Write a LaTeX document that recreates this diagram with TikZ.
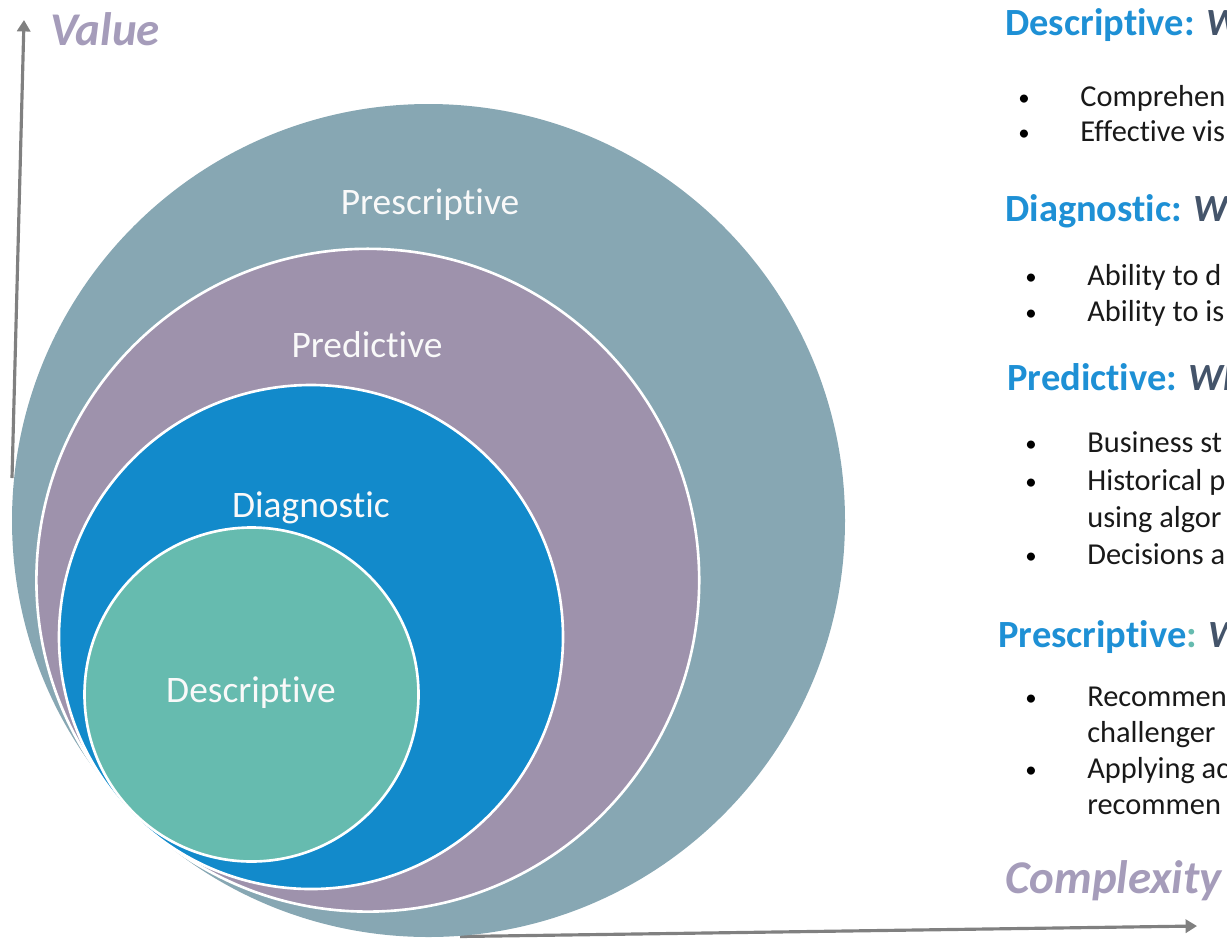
\documentclass[tikz,border=0pt]{standalone}
\usepackage{fontspec}
\setmainfont{Carlito}[Ligatures=NoCommon]
\usepackage{tikz}
\usetikzlibrary{arrows.meta}
\usepackage{xcolor}
\definecolor{prescgray}{RGB}{135,167,179}
\definecolor{predpurple}{RGB}{158,146,172}
\definecolor{diagblue}{RGB}{18,138,203}
\definecolor{descteal}{RGB}{102,187,175}
\definecolor{headblue}{RGB}{30,144,213}
\definecolor{headslate}{RGB}{68,84,106}
\definecolor{axislilac}{RGB}{165,156,186}
\definecolor{axisgray}{RGB}{128,128,128}

\begin{document}
\begin{tikzpicture}[x=0.02cm, y=-0.02cm]
      % Styles
      \tikzset{ring/.style={draw=white, line width=1.5pt}}
      \tikzset{ring_label/.style={text=white!95!gray, font=\fontsize{21.3}{25}\selectfont}}
      \tikzset{head/.style={anchor=base west, inner sep=0pt, text=headblue, font=\fontsize{21.9}{26}\selectfont\bfseries}}
      \tikzset{item/.style={anchor=base west, inner sep=0pt, text=black!90, font=\fontsize{17.3}{20}\selectfont}}
      \tikzset{dot/.style={anchor=base west, inner sep=0pt, yshift=0.4pt, font=\fontsize{13}{15}\selectfont}}
      \tikzset{axis/.style={draw=axisgray, line width=1.8pt, -{Triangle[length=6.5pt, width=7.5pt]}}}
      \tikzset{axis_label/.style={anchor=base west, inner sep=0pt, text=axislilac, font=\fontsize{26.7}{30}\selectfont\bfseries\itshape}}

      \useasboundingbox (0,0) rectangle (1227,941);
      \clip (0,0) rectangle (1227,941);

      % --- Axes, partly hidden behind the circles ---
      \coordinate (v_from) at (12,478);
      \coordinate (v_to) at (24,20);
      \coordinate (h_from) at (460,936.5);
      \coordinate (h_to) at (1197,926);
      \draw[axis] (v_from) -- (v_to);
      \draw[axis] (h_from) -- (h_to);
      \node[axis_label] (value) at (50,45) {Value};
      \node[axis_label] (complexity) at (1005,893) {Complexity};

      % --- Nested circles, all touching at the lower left ---
      \filldraw[ring, fill=prescgray, draw=none] (428.5,520.5) circle (416.5);
      \filldraw[ring, fill=predpurple] (367.8,580.2) circle (331.4);
      \filldraw[ring, fill=diagblue] (311,637) circle (252);
      \filldraw[ring, fill=descteal] (251.5,694.5) circle (167);

      \node[ring_label] (presc_lbl) at (430,205) {Prescriptive};
      \node[ring_label] (pred_lbl) at (367,345) {Predictive};
      \node[ring_label] (diag_lbl) at (311,508) {Diagnostic};
      \node[ring_label] (desc_lbl) at (251,693) {Descriptive};

      % --- Text on the right ---
      \node[head] (desc_head) at (1005,35) {Descriptive: \textit{\color{headslate}W}};
      \node[dot] (desc_b1) at (1018,106) {•};
      \node[item] (desc_t1) at (1080,106) {Comprehen};
      \node[dot] (desc_b2) at (1018,141) {•};
      \node[item] (desc_t2) at (1080,141) {Effective vis};

      \node[head] (diag_head) at (1005,221) {Diagnostic: \textit{\color{headslate}Wh}};
      \node[dot] (diag_b1) at (1025,285) {•};
      \node[item] (diag_t1) at (1087,285) {Ability to d};
      \node[dot] (diag_b2) at (1025,321) {•};
      \node[item] (diag_t2) at (1087,321) {Ability to is};

      \node[head] (pred_head) at (1007,390) {Predictive: \textit{\color{headslate}Wh}};
      \node[dot] (pred_b1) at (1025,452) {•};
      \node[item] (pred_t1) at (1087,452) {Business st};
      \node[dot] (pred_b2) at (1025,490) {•};
      \node[item] (pred_t2) at (1087,490) {Historical p};
      \node[item] (pred_t3) at (1087,527) {using algor};
      \node[dot] (pred_b3) at (1025,564) {•};
      \node[item] (pred_t4) at (1087,564) {Decisions a};

      \node[head] (presc_head) at (998,647) {Prescriptive{\color{descteal}:} \textit{\color{headslate}W}};
      \node[dot] (presc_b1) at (1025,706) {•};
      \node[item] (presc_t1) at (1087,706) {Recommen};
      \node[item] (presc_t2) at (1087,742) {challenger};
      \node[dot] (presc_b2) at (1025,778) {•};
      \node[item] (presc_t3) at (1087,778) {Applying ac};
      \node[item] (presc_t4) at (1087,814) {recommen};

    \end{tikzpicture}
\end{document}
